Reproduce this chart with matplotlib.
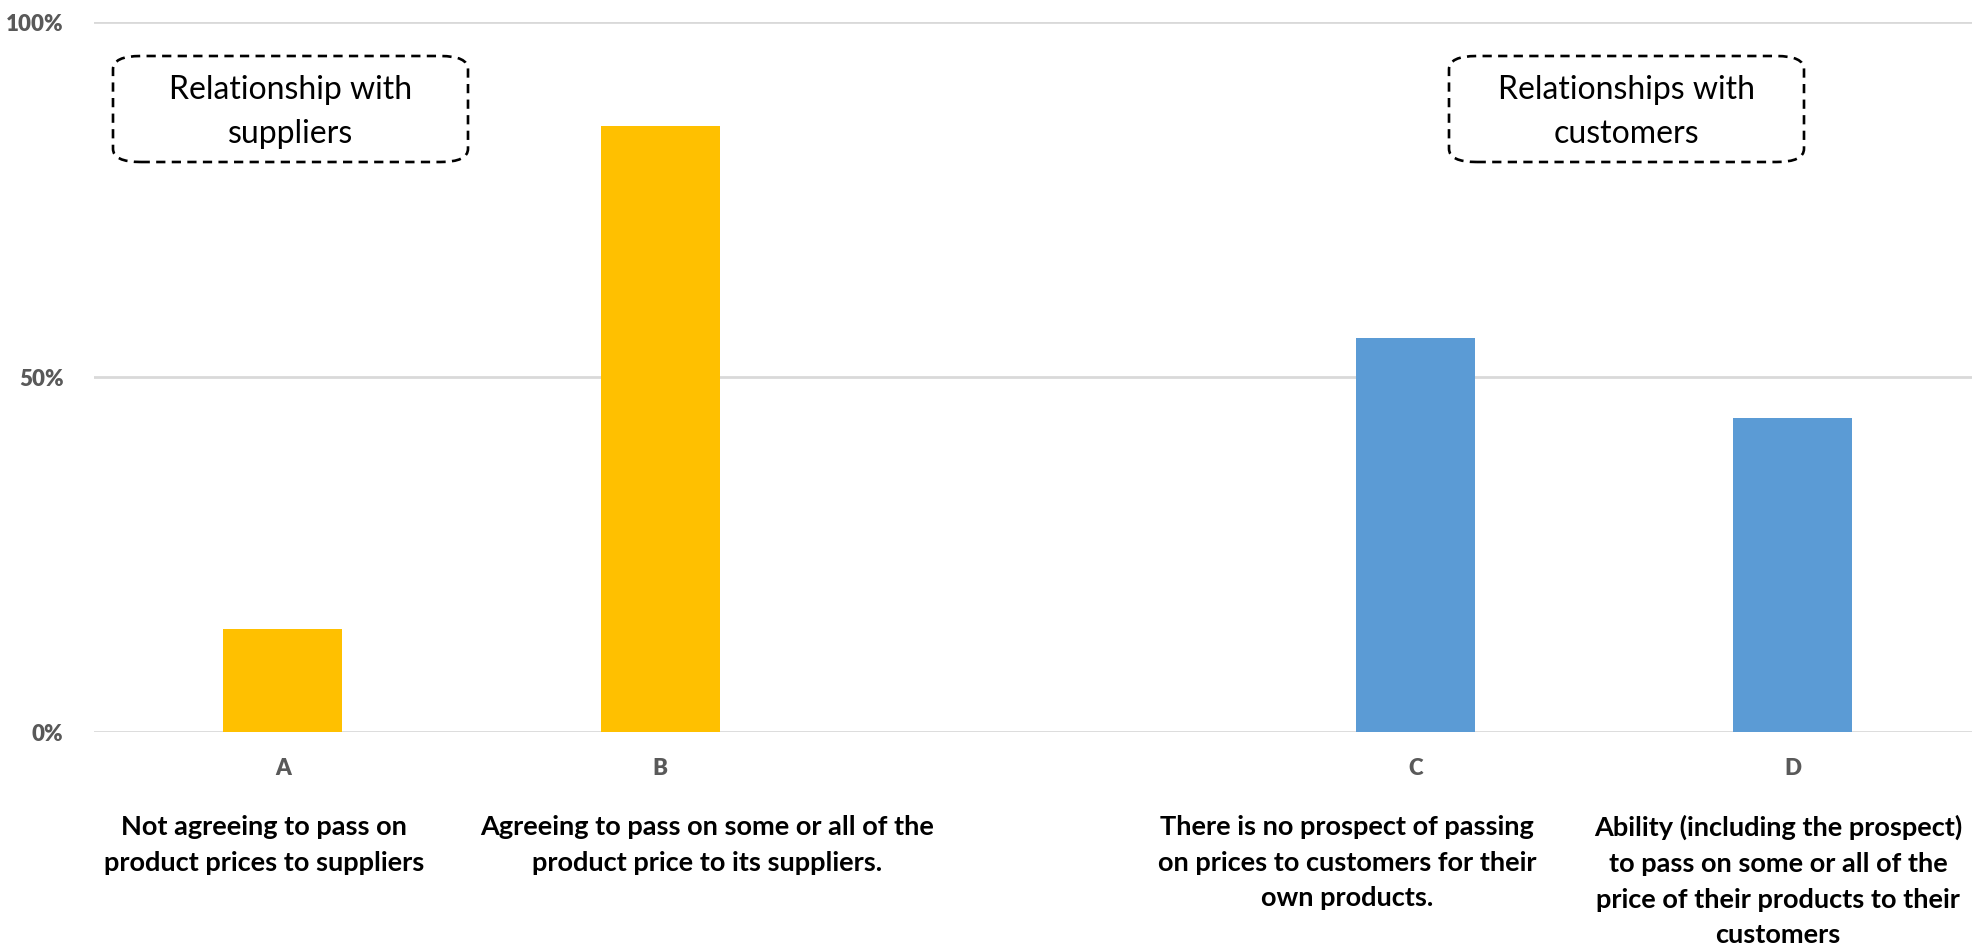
import matplotlib.pyplot as plt
from matplotlib.patches import FancyBboxPatch

# Survey shares (fraction of respondents) for each answer
letters = ['A', 'B', 'C', 'D']
shares = [0.144, 0.853, 0.554, 0.442]
groups = ['suppliers', 'suppliers', 'customers', 'customers']
descriptions = [
    'Not agreeing to pass on\nproduct prices to suppliers',
    'Agreeing to pass on some or all of the\nproduct price to its suppliers.',
    'There is no prospect of passing\non prices to customers for their\nown products.',
    'Ability (including the prospect)\nto pass on some or all of the\nprice of their products to their\ncustomers',
]
group_titles = ['Relationship with\nsuppliers', 'Relationships with\ncustomers']
y_ticks = [0, 0.5, 1.0]
y_ticklabels = ['0%', '50%', '100%']

colors = {'suppliers': '#FFC000', 'customers': '#5B9BD5'}

W, H = 1972, 945
fig = plt.figure(figsize=(W / 100, H / 100), dpi=100)
ax = fig.add_axes([94 / W, 1 - 732.7 / H, 1 - 94 / W, (732.7 - 22.7) / H])

# leave an empty slot between the two groups
xs = [0, 1, 3, 4]
ax.bar(xs, shares, width=0.315, color=[colors[g] for g in groups], zorder=2)

ax.set_ylim(0, 1.0)
ax.set_xlim(-0.5, 4.475)
ax.set_yticks(y_ticks)
ax.set_yticklabels(y_ticklabels)
ax.set_xticks(xs)
ax.set_xticklabels(letters)
for lab in ax.get_xticklabels() + ax.get_yticklabels():
    lab.set_family('Lato')
    lab.set_fontsize(16)
    lab.set_fontweight('heavy')
    lab.set_color('#595959')
ax.tick_params(length=0, axis='y', pad=22)
ax.tick_params(length=0, axis='x', pad=18)
ax.yaxis.grid(True, color='#D9D9D9', linewidth=2, zorder=0)
ax.set_axisbelow(True)
for s in ax.spines.values():
    s.set_visible(False)

# descriptive labels under the letters
desc_x = [264, 707, 1347, 1778]
for x, t in zip(desc_x, descriptions):
    fig.text(x / W, 1 - 815 / H, t, ha='center', va='top', fontsize=19.5,
             fontweight='bold', family='Lato', linespacing=1.58)

# dashed rounded boxes naming each group
box_x = [(113, 468), (1449, 1804)]
for (x0, x1), title in zip(box_x, group_titles):
    y0, y1 = 57, 163
    box = FancyBboxPatch((x0 / W, 1 - y1 / H), (x1 - x0) / W, (y1 - y0) / H,
                         boxstyle='round,pad=0,rounding_size=0.014',
                         transform=fig.transFigure, fill=False,
                         edgecolor='black', linestyle=(0, (3.5, 2.4)), linewidth=1.9)
    fig.add_artist(box)
    fig.text((x0 + x1) / 2 / W, 1 - 112 / H, title, ha='center', va='center',
             fontsize=23, family='Lato', linespacing=1.6)

fig.savefig('out.png', dpi=100)
